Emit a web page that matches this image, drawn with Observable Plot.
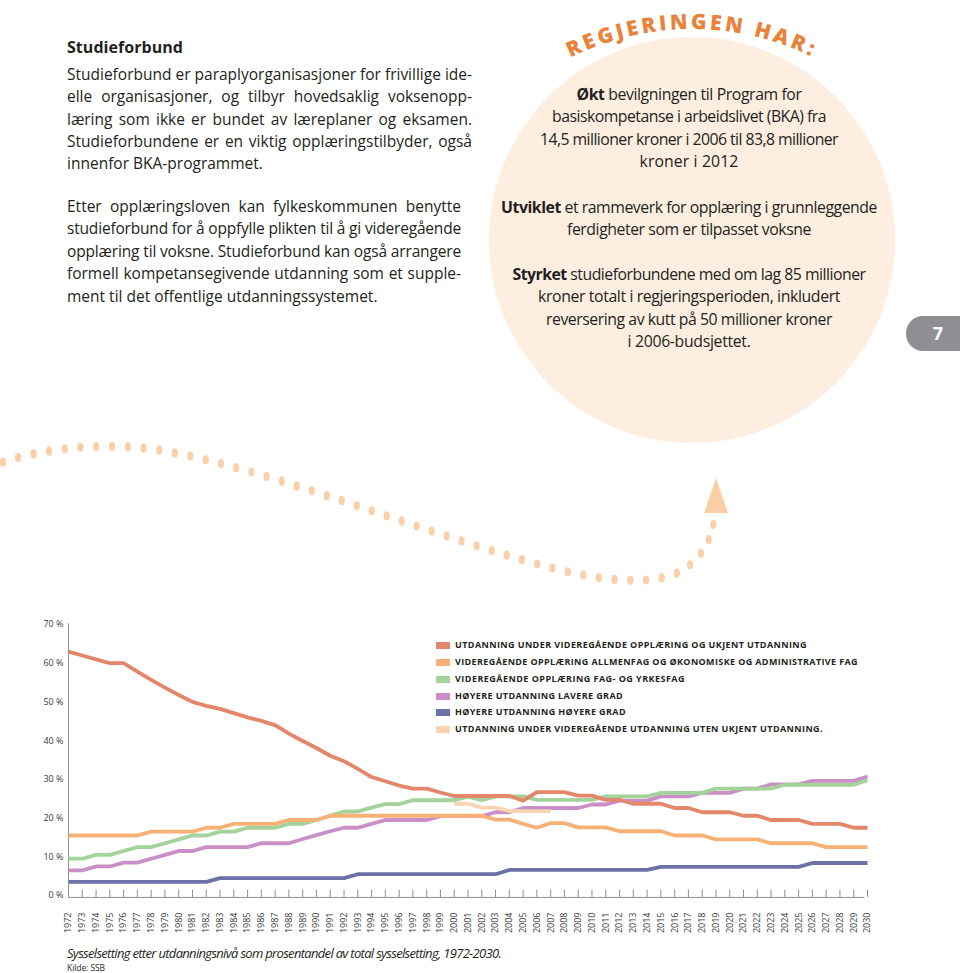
<!DOCTYPE html>
<html><head><meta charset="utf-8">
<script src="https://cdn.jsdelivr.net/npm/d3@7"></script>
<script src="https://cdn.jsdelivr.net/npm/@observablehq/plot@0.6"></script>
<style>
html,body{margin:0;padding:0;background:#fff;}
#page{position:relative;width:960px;height:973px;overflow:hidden;font-family:"Open Sans",sans-serif;color:#231f20;}
.ln{position:absolute;white-space:pre;display:inline-block;font-size:15.5px;line-height:22px;}
.cc{font-size:15.8px;}
.c{transform:translateX(-50%);}
#chart{position:absolute;left:0;top:610px;}
#legend{position:absolute;left:0;top:0;}
.lg{position:absolute;white-space:pre;font-size:9px;font-weight:700;line-height:12px;color:#231f20;}
.sw{position:absolute;width:14px;height:7px;}
</style></head>
<body><div id="page">
<svg id="decor" width="960" height="973" style="position:absolute;left:0;top:0">
  <circle cx="692" cy="240" r="203" fill="#fdeee0"/>
  <path id="arcp" d="M420,301 A272,272 0 0 1 964,301" fill="none"/>
  <text font-family="Open Sans" font-weight="800" font-size="21" letter-spacing="3.2" fill="#e9823a"><textPath href="#arcp" startOffset="50%" text-anchor="middle">REGJERINGEN HAR:</textPath></text>
  <path id="wave" d="M3,462 C50,447 110,441 170,452 C280,472 440,540 560,570 C610,582 650,584 675,574 C700,563 713,540 715,512" fill="none"/>
  <g id="dots"></g>
  <polygon points="716,478 704,513 728,513" fill="#fbcfa6"/>
  <rect x="906" y="316" width="90" height="35" rx="17" fill="#8e8f92"/>
  <text x="938" y="340" text-anchor="middle" font-family="Open Sans" font-weight="700" font-size="18" fill="#fff">7</text>
</svg>

<div class="ln" style="left:67px;top:36px;font-weight:700;font-size:16px" data-w="116">Studieforbund</div>
<div class="ln" style="left:67px;top:63px" data-w="405" data-j="1">Studieforbund er paraplyorganisasjoner for frivillige ide-</div>
<div class="ln" style="left:67px;top:85px" data-w="405" data-j="1">elle organisasjoner, og tilbyr hovedsaklig voksenopp-</div>
<div class="ln" style="left:67px;top:108px" data-w="405" data-j="1">læring som ikke er bundet av læreplaner og eksamen.</div>
<div class="ln" style="left:67px;top:130px" data-w="405" data-j="1">Studieforbundene er en viktig opplæringstilbyder, også</div>
<div class="ln" style="left:67px;top:152px">innenfor BKA-programmet.</div>

<div class="ln" style="left:67px;top:195px" data-w="394" data-j="1">Etter opplæringsloven kan fylkeskommunen benytte</div>
<div class="ln" style="left:67px;top:217px" data-w="394" data-j="1">studieforbund for å oppfylle plikten til å gi videregående</div>
<div class="ln" style="left:67px;top:240px" data-w="394" data-j="1">opplæring til voksne. Studieforbund kan også arrangere</div>
<div class="ln" style="left:67px;top:262px" data-w="394" data-j="1">formell kompetansegivende utdanning som et supple-</div>
<div class="ln" style="left:67px;top:285px">ment til det offentlige utdanningssystemet.</div>

<div class="ln cc c" style="left:689px;top:83px" data-w="225"><b>Økt</b> bevilgningen til Program for</div>
<div class="ln cc c" style="left:689px;top:105px" data-w="274">basiskompetanse i arbeidslivet (BKA) fra</div>
<div class="ln cc c" style="left:689px;top:128px" data-w="298">14,5 millioner kroner i 2006 til 83,8 millioner</div>
<div class="ln cc c" style="left:689px;top:150px" data-w="99">kroner i 2012</div>
<div class="ln cc c" style="left:689px;top:196px" data-w="376"><b>Utviklet</b> et rammeverk for opplæring i grunnleggende</div>
<div class="ln cc c" style="left:689px;top:218px" data-w="244">ferdigheter som er tilpasset voksne</div>
<div class="ln cc c" style="left:689px;top:263px" data-w="353"><b>Styrket</b> studieforbundene med om lag 85 millioner</div>
<div class="ln cc c" style="left:689px;top:285px" data-w="302">kroner totalt i regjeringsperioden, inkludert</div>
<div class="ln cc c" style="left:689px;top:308px" data-w="286">reversering av kutt på 50 millioner kroner</div>
<div class="ln cc c" style="left:689px;top:330px" data-w="123">i 2006-budsjettet.</div>

<div id="chart"></div>
<div id="legend"></div>

<div class="ln" style="left:67px;top:945px;font-style:italic;font-size:13px;line-height:16px" data-w="434">Sysselsetting etter utdanningsnivå som prosentandel av total sysselsetting, 1972-2030.</div>
<div class="ln" style="left:67px;top:962px;font-size:8.5px;line-height:11px" data-w="38">Kilde: SSB</div>
</div>
<script>
// ---------------- data ----------------
const years = [1972,1973,1974,1975,1976,1977,1978,1979,1980,1981,1982,1983,1984,1985,1986,1987,1988,1989,1990,1991,1992,1993,1994,1995,1996,1997,1998,1999,2000,2001,2002,2003,2004,2005,2006,2007,2008,2009,2010,2011,2012,2013,2014,2015,2016,2017,2018,2019,2020,2021,2022,2023,2024,2025,2026,2027,2028,2029,2030];

const seriesNames = [
  "UTDANNING UNDER VIDEREGÅENDE OPPLÆRING OG UKJENT UTDANNING",
  "VIDEREGÅENDE OPPLÆRING ALLMENFAG OG ØKONOMISKE OG ADMINISTRATIVE FAG",
  "VIDEREGÅENDE OPPLÆRING FAG- OG YRKESFAG",
  "HØYERE UTDANNING LAVERE GRAD",
  "HØYERE UTDANNING HØYERE GRAD",
  "UTDANNING UNDER VIDEREGÅENDE UTDANNING UTEN UKJENT UTDANNING."
];
const seriesColors = ["#e4866a", "#f7b176", "#a3d29a", "#c98fc6", "#6e70a8", "#fad4b2"];

const underUkjent = [63,62,61,60,60,57.8,55.7,53.7,51.8,50,49,48.2,47.1,46,45.1,44,41.8,39.9,38.1,36.1,34.7,32.7,30.6,29.5,28.4,27.6,27.6,26.6,25.7,25.7,25.7,25.7,25.7,24.5,26.7,26.7,26.7,25.8,25.8,24.7,24.7,23.7,23.7,23.7,22.6,22.6,21.5,21.5,21.5,20.6,20.6,19.5,19.5,19.5,18.5,18.5,18.5,17.5,17.5];
const allmenfag = [15.5,15.5,15.5,15.5,15.5,15.5,16.5,16.5,16.5,16.5,17.5,17.5,18.5,18.5,18.5,18.5,19.5,19.5,19.5,20.6,20.6,20.6,20.6,20.6,20.6,20.6,20.6,20.6,20.6,20.6,20.6,19.6,19.6,18.5,17.5,18.7,18.7,17.6,17.6,17.6,16.6,16.6,16.6,16.6,15.5,15.5,15.5,14.5,14.5,14.5,14.5,13.5,13.5,13.5,13.5,12.5,12.5,12.5,12.5];
const yrkesfag = [9.5,9.5,10.5,10.5,11.5,12.5,12.5,13.5,14.5,15.5,15.5,16.5,16.5,17.5,17.5,17.5,18.5,18.5,19.5,20.6,21.7,21.7,22.7,23.6,23.6,24.6,24.6,24.6,24.6,25.5,24.6,25.6,25.6,25.6,24.7,24.7,24.7,24.7,24.7,25.6,25.6,25.6,25.6,26.5,26.5,26.5,26.5,27.6,27.6,27.6,27.6,27.6,28.6,28.6,28.6,28.6,28.6,28.6,29.8];
const lavereGrad = [6.5,6.5,7.5,7.5,8.5,8.5,9.5,10.5,11.5,11.5,12.5,12.5,12.5,12.5,13.5,13.5,13.5,14.6,15.6,16.6,17.5,17.5,18.5,19.5,19.5,19.5,19.5,20.5,20.5,20.5,20.5,21.5,21.5,22.6,22.6,22.6,22.6,22.6,23.5,23.5,24.5,24.5,24.5,25.6,25.6,25.6,26.5,26.5,26.5,27.6,27.6,28.7,28.7,28.7,29.6,29.6,29.6,29.6,30.7];
const hoyereGrad = [3.5,3.5,3.5,3.5,3.5,3.5,3.5,3.5,3.5,3.5,3.5,4.5,4.5,4.5,4.5,4.5,4.5,4.5,4.5,4.5,4.5,5.5,5.5,5.5,5.5,5.5,5.5,5.5,5.5,5.5,5.5,5.5,6.6,6.6,6.6,6.6,6.6,6.6,6.6,6.6,6.6,6.6,6.6,7.4,7.4,7.4,7.4,7.4,7.4,7.4,7.4,7.4,7.4,7.4,8.4,8.4,8.4,8.4,8.4];
const utenUkjentYears = [2000,2001,2002,2003,2004,2005,2006,2007];
const utenUkjent = [23.7,23.7,22.7,22.7,21.8,21.8,21.8,21.8];

const yTicks = [0,10,20,30,40,50,60,70];

// ---------------- table (draw order) ----------------
const rows = [];
const add = (name, xs, vs) => xs.forEach((x, i) => rows.push({series: name, year: x, value: vs[i]}));
add(seriesNames[4], years, hoyereGrad);
add(seriesNames[3], years, lavereGrad);
add(seriesNames[2], years, yrkesfag);
add(seriesNames[1], years, allmenfag);
add(seriesNames[0], years, underUkjent);
add(seriesNames[5], utenUkjentYears, utenUkjent);

const axisGray = "#8f8f8f";
const chart = Plot.plot({
  width: 960, height: 335,
  marginLeft: 68, marginRight: 93, marginTop: 14, marginBottom: 50,
  style: {fontFamily: "Open Sans", fontSize: "9px", color: "#3a3a3a", background: "transparent", overflow: "visible"},
  x: {domain: [1972, 2030], axis: null},
  y: {domain: [0, 70], axis: null},
  color: {domain: seriesNames, range: seriesColors},
  marks: [
    Plot.axisY({ticks: yTicks, tickFormat: d => d + " %", tickSize: 0, tickPadding: 5, fontSize: 9, label: null}),
    Plot.axisX({ticks: years, tickFormat: d => String(d), tickSize: 0, tickRotate: -90, tickPadding: 17, fontSize: 9, label: null}),
    Plot.ruleX([1972], {y1: -0.5, y2: 70.2, stroke: axisGray, strokeWidth: 1}),
    Plot.ruleY([-0.5], {x1: 1972, x2: 2029.8, stroke: axisGray, strokeWidth: 1}),
    Plot.ruleX(years, {x: d => d, y1: -0.5, y2: 1.4, stroke: axisGray, strokeWidth: 1}),
    Plot.line(rows, {x: "year", y: "value", z: "series", stroke: "series", strokeWidth: 3.8, strokeLinejoin: "round", strokeLinecap: "butt"})
  ]
});
document.getElementById("chart").appendChild(chart);

// ---------------- legend (overlay inside the chart area) ----------------
const legendY = [645, 662, 679, 696, 712.5, 729];
const legendW = [352, 403, 230, 168, 171, 368];
const legend = document.getElementById("legend");
seriesNames.forEach((name, i) => {
  const sw = document.createElement("div");
  sw.className = "sw";
  sw.style.left = "436px"; sw.style.top = (legendY[i] - 3.5) + "px";
  sw.style.background = seriesColors[i];
  legend.appendChild(sw);
  const t = document.createElement("div");
  t.className = "lg";
  t.style.left = "455px"; t.style.top = (legendY[i] - 6.5) + "px";
  t.textContent = name;
  t.dataset.w = legendW[i];
  legend.appendChild(t);
});

// ---------------- decorative dotted arrow ----------------
const wave = document.getElementById("wave");
const dots = document.getElementById("dots");
const L = wave.getTotalLength();
for (let s = 0; s <= L - 4; s += 15.8) {
  const p = wave.getPointAtLength(s);
  const e = document.createElementNS("http://www.w3.org/2000/svg", "ellipse");
  e.setAttribute("cx", p.x); e.setAttribute("cy", p.y);
  e.setAttribute("rx", 3.1); e.setAttribute("ry", 4.6);
  e.setAttribute("fill", "#f9d0a8");
  dots.appendChild(e);
}

// ---------------- fit text lines to reference widths ----------------
function fit(el) {
  const target = +el.dataset.w;
  el.style.letterSpacing = "0px"; el.style.wordSpacing = "0px";
  const w = el.getBoundingClientRect().width;
  const txt = el.textContent;
  const spaces = (txt.match(/ /g) || []).length;
  if (el.dataset.j && w <= target && spaces) {
    el.style.wordSpacing = ((target - w) / spaces) + "px";
  } else {
    const ls = Math.max(-0.8, Math.min(0.6, (target - w) / txt.length));
    el.style.letterSpacing = ls + "px";
  }
}
document.querySelectorAll("[data-w]").forEach(fit);
</script>
</body></html>
